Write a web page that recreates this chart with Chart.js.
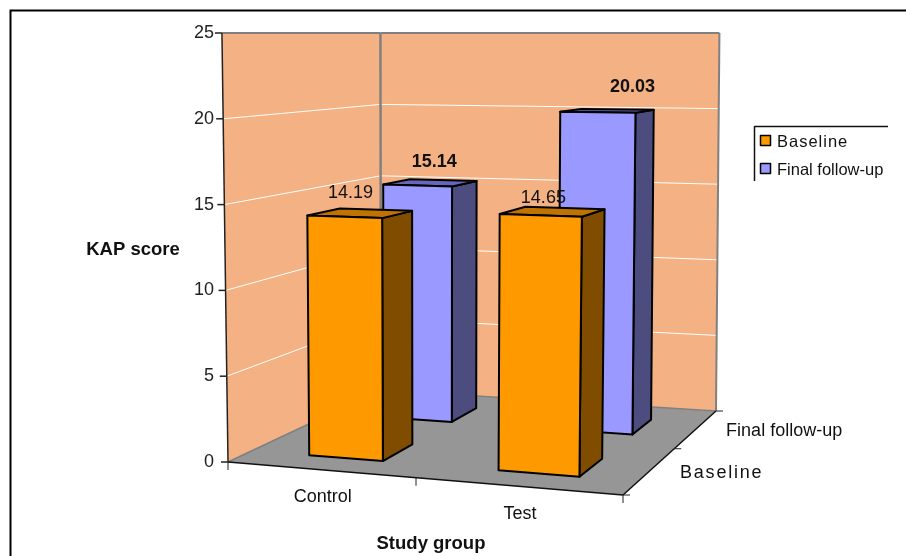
<!DOCTYPE html>
<html>
<head>
<meta charset="utf-8">
<title>KAP score</title>
<style>
  html, body { margin: 0; padding: 0; background: #fff; overflow: hidden; }
  #wrap { width: 906px; height: 556px; }
</style>
<script src="https://cdn.jsdelivr.net/npm/chart.js@4/dist/chart.umd.min.js"></script>
</head>
<body>
<div id="wrap"><canvas id="chart" width="906" height="556"></canvas></div>
<script>
// ====================
// DATA
// ====================
const categories = ["Control", "Test"];
const seriesNames = ["Baseline", "Final follow-up"];
const baselineValues = [14.19, 14.65];
const finalValues = [15.14, 20.03];
const yTicks = [0, 5, 10, 15, 20, 25];
const yTitle = "KAP score";
const xTitle = "Study group";

// ====================
// STYLE
// ====================
const FONT = '"Liberation Sans", Arial, sans-serif';
const WALL = "#f4b183";
const FLOOR = "#969696";
const faces = [
  { front: "#ff9900", side: "#7f4c00", top: "#c07300" },
  { front: "#9999ff", side: "#4c4c7f", top: "#6666bf" }
];
// depth slot of each series on the floor, 0 = front edge, 1 = back wall
const depthStart = [0.135, 0.63];
const depthSize = 0.2;
const uShift = 0.01;
// value label nudge from the top of the bar front
const labelNudge = [
  [[6, -24], [3, -17]],
  [[17, -23], [35, -25]]
];

// ====================
// 3D PROJECTION
// ====================
// floor corners on the page, the eye sits level with the top of the walls
const A = [228, 462], B = [623, 495], C = [716, 411], D = [381, 390];
const horizon = 33;

const sx = A[0] - B[0] + C[0] - D[0], sy = A[1] - B[1] + C[1] - D[1];
const dx1 = B[0] - C[0], dy1 = B[1] - C[1], dx2 = D[0] - C[0], dy2 = D[1] - C[1];
const det = dx1 * dy2 - dx2 * dy1;
const g = (sx * dy2 - dx2 * sy) / det;
const h = (dx1 * sy - sx * dy1) / det;

// u along category axis, w into the depth, f = share of the axis height
function project(u, w, f) {
  const q = g * u + h * w + 1;
  const x = ((B[0] - A[0] + g * B[0]) * u + (D[0] - A[0] + h * D[0]) * w + A[0]) / q;
  const y = ((B[1] - A[1] + g * B[1]) * u + (D[1] - A[1] + h * D[1]) * w + A[1]) / q;
  const lean = (x - 430) * (0.03 * (1 - w) + 0.012 * w) * f;
  return [x + lean, y - (y - horizon) * f];
}

function poly(ctx, pts, fill, stroke, lw) {
  ctx.beginPath();
  pts.forEach((p, i) => i ? ctx.lineTo(p[0], p[1]) : ctx.moveTo(p[0], p[1]));
  ctx.closePath();
  if (fill) { ctx.fillStyle = fill; ctx.fill(); }
  if (stroke) { ctx.strokeStyle = stroke; ctx.lineWidth = lw; ctx.stroke(); }
}

function line(ctx, a, b, color, lw) {
  ctx.beginPath();
  ctx.moveTo(a[0], a[1]);
  ctx.lineTo(b[0], b[1]);
  ctx.strokeStyle = color;
  ctx.lineWidth = lw;
  ctx.stroke();
}

function text(ctx, str, x, y, font, align) {
  ctx.font = font;
  ctx.fillStyle = "#111";
  ctx.textAlign = align || "center";
  ctx.textBaseline = "middle";
  ctx.fillText(str, x, y);
}

// share of the y axis height for a pixel of the y scale
function share(chart, pixel) {
  const a = chart.chartArea;
  return (a.bottom - pixel) / (a.bottom - a.top);
}

function drawWalls(chart) {
  const ctx = chart.ctx;
  const scale = chart.scales.y;

  // frame
  ctx.beginPath();
  ctx.moveTo(10.5, 556);
  ctx.lineTo(10.5, 10.5);
  ctx.lineTo(906, 10.5);
  ctx.strokeStyle = "#000";
  ctx.lineWidth = 2;
  ctx.stroke();

  poly(ctx, [project(0,0,0), project(0,1,0), project(0,1,1), project(0,0,1)], WALL);
  poly(ctx, [project(0,1,0), project(1,1,0), project(1,1,1), project(0,1,1)], WALL);
  poly(ctx, [project(0,0,0), project(1,0,0), project(1,1,0), project(0,1,0)], FLOOR);

  // gridlines
  yTicks.forEach(v => {
    if (v === 0 || v === 25) return;
    const f = share(chart, scale.getPixelForValue(v));
    line(ctx, project(0,0,f), project(0,1,f), "#fff", 1);
    line(ctx, project(0,1,f), project(1,1,f), "#fff", 1);
  });

  // wall edges
  line(ctx, project(0,0,1), project(0,1,1), "#808080", 2);
  line(ctx, project(0,1,1), project(1,1,1), "#808080", 2);
  line(ctx, project(0,1,0), project(0,1,1), "#808080", 2.5);
  line(ctx, project(1,1,0), project(1,1,1), "#808080", 2);
  line(ctx, project(0,0,0), project(0,1,0), "#808080", 1.5);
  line(ctx, project(0,1,0), project(1,1,0), "#808080", 1.5);
  line(ctx, project(0,0,0), project(0,0,1), "#222", 1.5);

  // y ticks
  yTicks.forEach(v => {
    const p = project(0, 0, share(chart, scale.getPixelForValue(v)));
    line(ctx, [p[0] - 7, p[1]], p, "#222", 1.5);
  });

  // floor front and side edges with their ticks
  line(ctx, project(0,0,0), project(1,0,0), "#111", 1.5);
  line(ctx, project(1,0,0), project(1,1,0), "#111", 1.5);
  [0, 0.5, 1].forEach(u => {
    const p = project(u, 0, 0);
    line(ctx, p, [p[0], p[1] + 8], "#222", 1);
  });
  [0, 0.5, 1].forEach(w => {
    const p = project(1, w, 0);
    line(ctx, p, [p[0] + 7, p[1]], "#222", 1);
  });
}

function drawBox(ctx, u0, u1, w0, w1, f, color) {
  const fl = project(u0, w0, 0), fr = project(u1, w0, 0), br = project(u1, w1, 0);
  const tfl = project(u0, w0, f), tfr = project(u1, w0, f);
  const tbr = project(u1, w1, f), tbl = project(u0, w1, f);
  ctx.lineJoin = "round";
  poly(ctx, [fr, br, tbr, tfr], color.side, "#000", 2);
  poly(ctx, [tfl, tfr, tbr, tbl], color.top, "#000", 2);
  poly(ctx, [fl, fr, tfr, tfl], color.front, "#000", 2);
}

function drawBars(chart) {
  const ctx = chart.ctx;
  const a = chart.chartArea;
  const anchors = [];

  // back series first so the front one covers it
  [1, 0].forEach(ds => {
    chart.getDatasetMeta(ds).data.forEach((el, i) => {
      const uc = (el.x - a.left) / a.width + uShift;
      const half = el.width / 2 / a.width;
      const f = share(chart, el.y);
      drawBox(ctx, uc - half, uc + half, depthStart[ds], depthStart[ds] + depthSize, f, faces[ds]);
      anchors.push({ ds, i, p: project(uc, depthStart[ds], f) });
    });
  });

  anchors.forEach(k => {
    const value = chart.data.datasets[k.ds].data[k.i].toFixed(2);
    const n = labelNudge[k.ds][k.i];
    const weight = k.ds === 1 ? "bold " : "";
    text(ctx, value, k.p[0] + n[0], k.p[1] + n[1], weight + "18px " + FONT);
  });
}

function drawAxisText(chart) {
  const ctx = chart.ctx;
  const a = chart.chartArea;
  chart.scales.x.getLabels().forEach((label, i) => {
    const u = (chart.scales.x.getPixelForTick(i) - a.left) / a.width;
    const p = project(u, 0, 0);
    text(ctx, label, p[0] + 3, p[1] + 27 + i, "18px " + FONT);
  });
  seriesNames.forEach((name, i) => {
    const p = project(1, 0.25 + 0.5 * i, 0);
    ctx.letterSpacing = i === 0 ? "1.8px" : "0px";
    text(ctx, name, p[0] + 30, p[1] + 2, "18px " + FONT, "left");
    ctx.letterSpacing = "0px";
  });
  text(ctx, yTitle, 133, 250, "bold 18.5px " + FONT);
  text(ctx, xTitle, 431, 544, "bold 18.5px " + FONT);
}

function drawLegend(chart) {
  const ctx = chart.ctx;
  ctx.beginPath();
  ctx.moveTo(754.5, 181);
  ctx.lineTo(754.5, 126.5);
  ctx.lineTo(888, 126.5);
  ctx.strokeStyle = "#111";
  ctx.lineWidth = 1.5;
  ctx.stroke();
  seriesNames.forEach((name, i) => {
    const y = 141 + 28 * i;
    ctx.fillStyle = faces[i].front;
    ctx.fillRect(760.5, y - 5.5, 10, 10);
    ctx.strokeStyle = "#000";
    ctx.lineWidth = 1.5;
    ctx.strokeRect(760.5, y - 5.5, 10, 10);
    ctx.letterSpacing = i === 0 ? "1px" : "0px";
    text(ctx, name, 777, y + 1, "16.5px " + FONT, "left");
    ctx.letterSpacing = "0px";
  });
}

const box3d = {
  id: "box3d",
  beforeDatasetsDraw(chart) { drawWalls(chart); },
  beforeDatasetDraw() { return false; },
  afterDatasetsDraw(chart) {
    drawBars(chart);
    drawAxisText(chart);
    drawLegend(chart);
  }
};

// ====================
// CHART
// ====================
new Chart(document.getElementById("chart"), {
  type: "bar",
  data: {
    labels: categories,
    datasets: [
      { label: seriesNames[0], data: baselineValues, backgroundColor: faces[0].front },
      { label: seriesNames[1], data: finalValues, backgroundColor: faces[1].front }
    ]
  },
  options: {
    responsive: false,
    animation: false,
    layout: { padding: { top: 33, right: 283, bottom: 94, left: 0 } },
    datasets: { bar: { grouped: false, categoryPercentage: 1, barPercentage: 0.4 } },
    plugins: { legend: { display: false }, title: { display: false }, tooltip: { enabled: false } },
    scales: {
      x: { display: false, offset: true },
      y: {
        min: 0,
        max: 25,
        afterFit(scale) { scale.width = 228; },
        grid: { display: false, drawTicks: false },
        border: { display: false },
        ticks: {
          stepSize: 5,
          padding: 14,
          color: "#222",
          font: { family: FONT, size: 18 }
        }
      }
    }
  },
  plugins: [box3d]
});
</script>
</body>
</html>
